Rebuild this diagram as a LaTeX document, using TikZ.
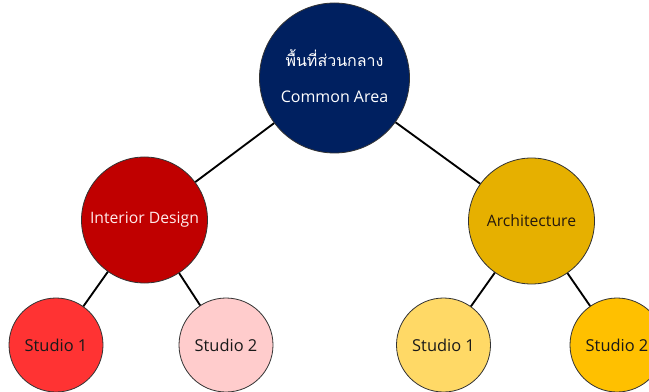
\documentclass[tikz,border=0pt]{standalone}
\usepackage{fontspec}
\setmainfont{Open Sans}
\newfontfamily\thaifont[Script=Thai]{Loma}
\definecolor{navy}{HTML}{002060}
\definecolor{darkred}{HTML}{C00000}
\definecolor{gold}{HTML}{E6B000}
\definecolor{redlt}{HTML}{FF3333}
\definecolor{pinklt}{HTML}{FFCCCC}
\definecolor{yellowlt}{HTML}{FFD966}
\definecolor{amber}{HTML}{FFC000}
\begin{document}
\begin{tikzpicture}[x=0.75pt,y=-0.75pt,
  bubble/.style={circle,draw=black!80,line width=0.6pt,inner sep=0pt,align=center},
  topbubble/.style={bubble,minimum size=112.5pt,fill=navy,text=white},
  midbubble/.style={bubble,minimum size=94.5pt,font=\fontsize{11.8}{13}\selectfont},
  lowbubble/.style={bubble,minimum size=70.5pt,text=black!90,font=\fontsize{12.3}{14}\selectfont},
  link/.style={line width=1.4pt,black}]
\useasboundingbox (0,0) rectangle (649,392);
\clip (0,0) rectangle (649,392);
\node[topbubble] (top) at (334.5,78) {};
\node[text=white,font=\thaifont\fontsize{12}{14}\selectfont] (thai) at (334.5,58) {พื้นที่ส่วนกลาง};
\node[text=white,font=\fontsize{12}{14}\selectfont] (common) at (334.5,97) {Common Area};
\node[midbubble,fill=darkred,text=red!8] (interior) at (144.5,220) {Interior Design};
\node[midbubble,fill=gold,text=black!80!brown] (arch) at (531.5,221) {Architecture};
\node[lowbubble,fill=redlt] (s1l) at (56,345) {Studio 1};
\node[lowbubble,fill=pinklt] (s2l) at (226,345) {Studio 2};
\node[lowbubble,fill=yellowlt] (s1r) at (443.5,345) {Studio 1};
\node[lowbubble,fill=amber] (s2r) at (617,345) {Studio 2};
\draw[link] (top) -- (interior);
\draw[link] (top) -- (arch);
\draw[link] (interior) -- (s1l);
\draw[link] (interior) -- (s2l);
\draw[link] (arch) -- (s1r);
\draw[link] (arch) -- (s2r);
\end{tikzpicture}
\end{document}
